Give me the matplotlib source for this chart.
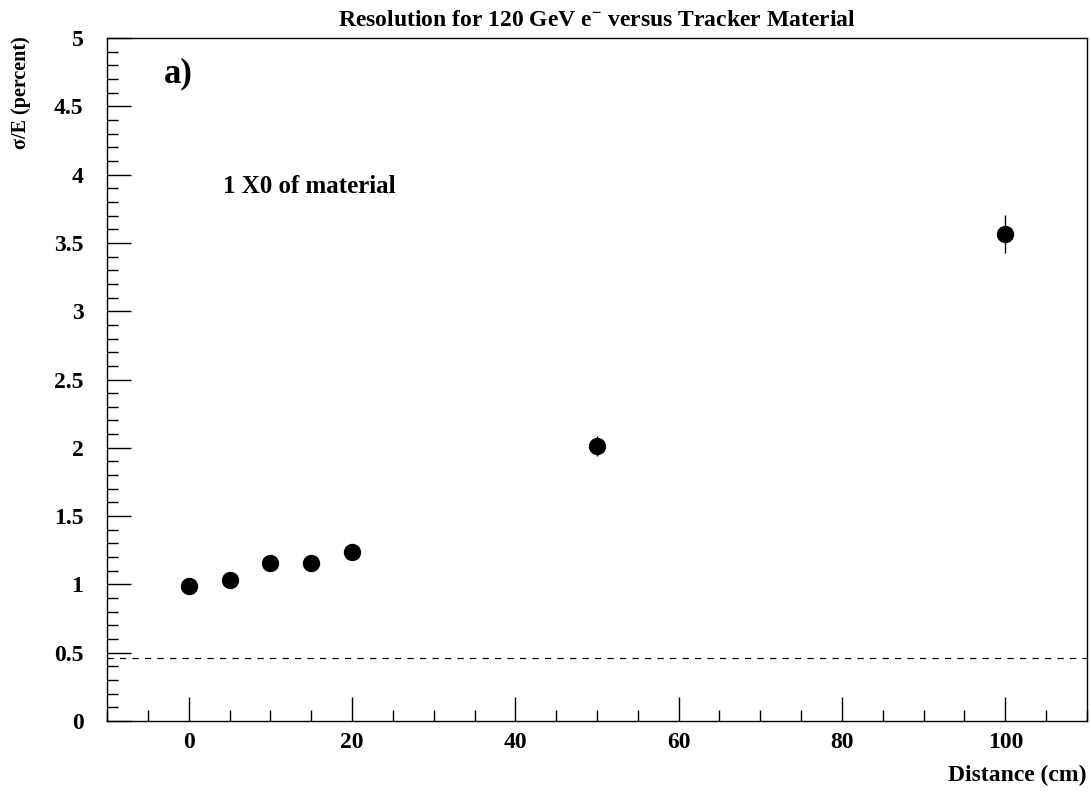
import matplotlib
matplotlib.use("Agg")
import matplotlib.pyplot as plt
from matplotlib.ticker import MultipleLocator

plt.rcParams['font.family'] = ['Liberation Serif', 'DejaVu Serif']
plt.rcParams['font.weight'] = 'bold'
plt.rcParams['mathtext.fontset'] = 'custom'
plt.rcParams['mathtext.rm'] = 'Liberation Serif:bold'
plt.rcParams['mathtext.bf'] = 'Liberation Serif:bold'
plt.rcParams['mathtext.it'] = 'Liberation Serif:bold'

distance = [0, 5, 10, 15, 20, 50, 100]
resolution = [0.99, 1.03, 1.16, 1.155, 1.237, 2.013, 3.565]
errors = [0.03, 0.03, 0.035, 0.035, 0.04, 0.075, 0.14]
reference_level = 0.46

title = "Resolution for 120 GeV e$^{-}$ versus Tracker Material"
xlabel = "Distance (cm)"
ylabel = "σ/E (percent)"
yticks = [0, 0.5, 1, 1.5, 2, 2.5, 3, 3.5, 4, 4.5, 5]
yticklabels = ['0', '0.5', '1', '1.5', '2', '2.5', '3', '3.5', '4', '4.5', '5']

fig = plt.figure(figsize=(10.91, 7.93), dpi=100)
ax = fig.add_axes([107/1091, 72/793, 980/1091, 683/793])

ax.errorbar(distance, resolution, yerr=errors, fmt='o', color='black',
            markersize=11.5, elinewidth=1.0, capsize=0, zorder=3)
ax.axhline(reference_level, color='black', linewidth=0.9, linestyle=(0, (5, 5)))

ax.set_xlim(-10, 110)
ax.set_ylim(0, 5)
ax.xaxis.set_major_locator(MultipleLocator(20))
ax.xaxis.set_minor_locator(MultipleLocator(5))
ax.set_yticks(yticks)
ax.set_yticklabels(yticklabels)
ax.yaxis.set_minor_locator(MultipleLocator(0.1))
ax.tick_params(which='both', direction='in', top=False, right=False, width=1.0)
ax.tick_params(which='major', length=17, labelsize=17)
ax.tick_params(axis='y', which='major', pad=17)
ax.tick_params(axis='x', which='major', pad=8)
ax.tick_params(which='minor', length=8)
for s in ax.spines.values():
    s.set_linewidth(1.0)

ax.set_title(title, fontsize=17, fontweight='bold', pad=9)
fig.text(1087/1091, 1 - 775/793, xlabel, ha='right', va='center', fontsize=17, fontweight='bold')
fig.text(21/1091, 1 - 36/793, ylabel, ha='center', va='top', rotation=90, fontsize=14.5, fontweight='bold')

ax.text(-3.0, 4.74, "a)", fontsize=25, fontweight='bold', ha='left', va='center')
ax.text(4.2, 3.91, "1 X0 of material", fontsize=18, fontweight='bold', ha='left', va='center')

fig.savefig("out.png", dpi=100)
